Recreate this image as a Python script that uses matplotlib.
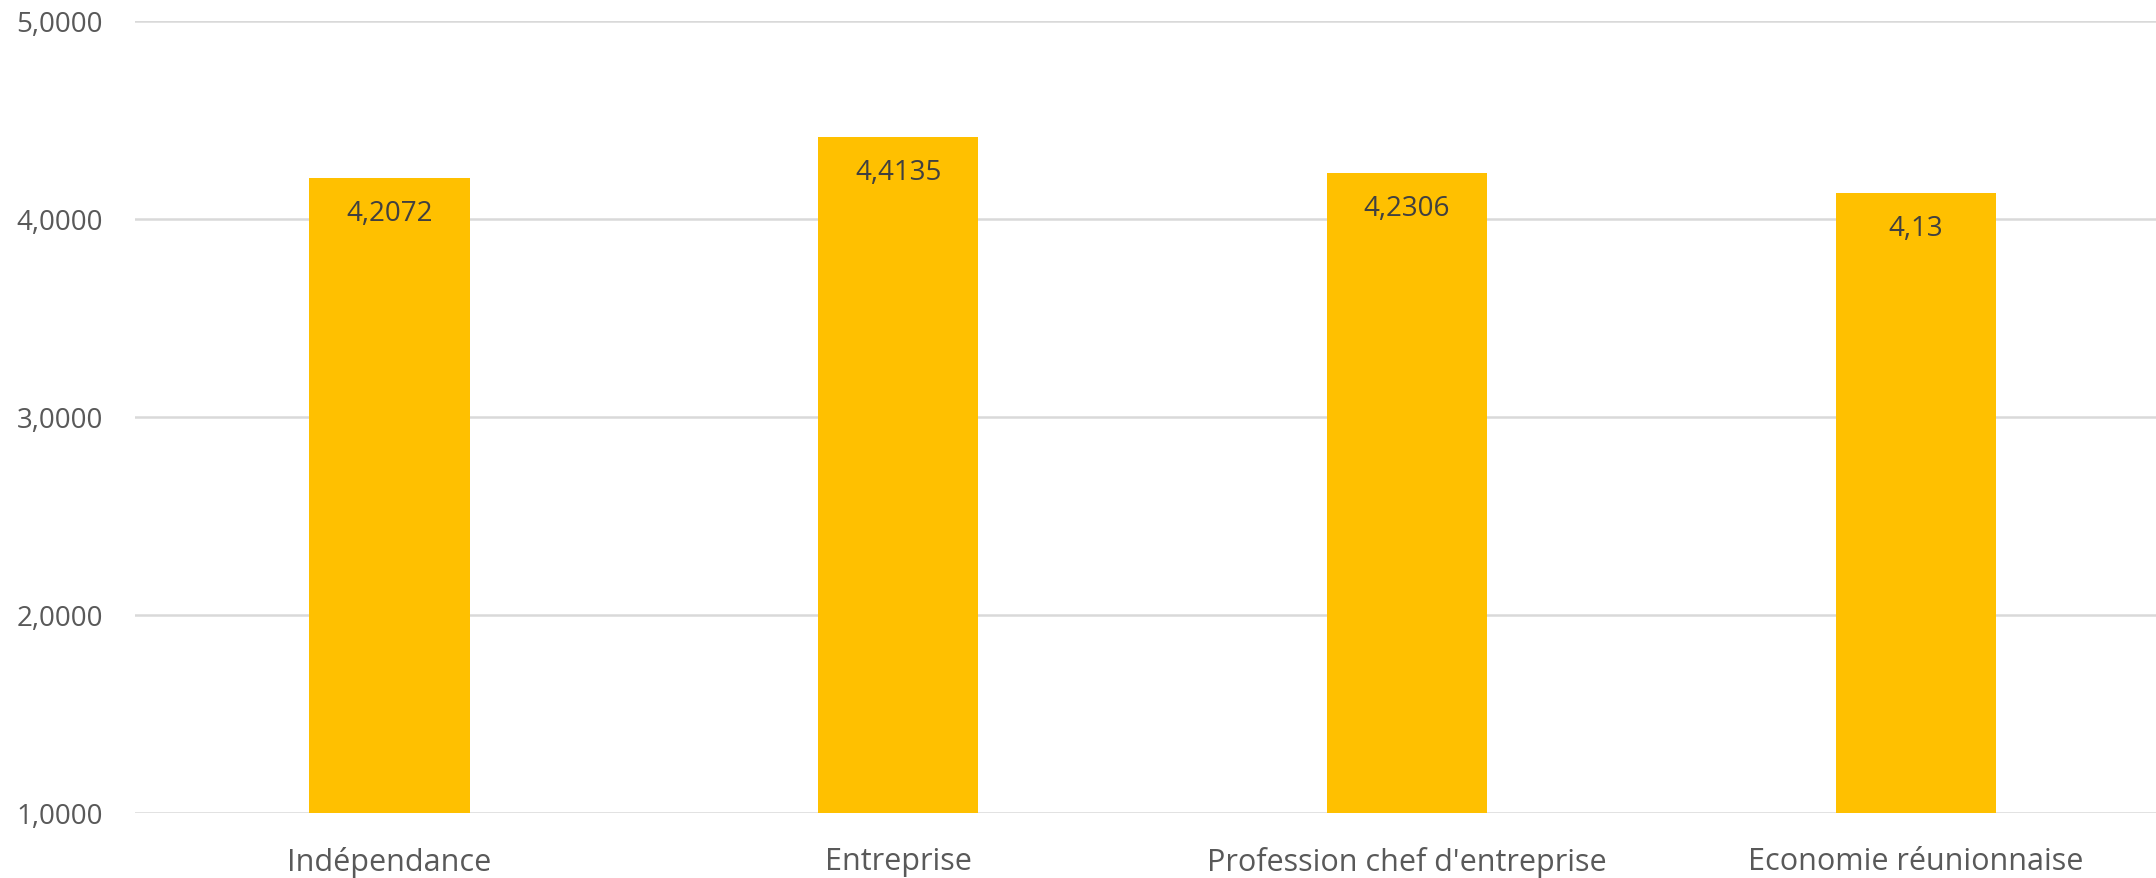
import matplotlib.pyplot as plt
import numpy as np

categories = ['Indépendance', 'Entreprise', "Profession chef d'entreprise", 'Economie réunionnaise']
values = [4.2072, 4.4135, 4.2306, 4.13]
value_labels = ['4,2072', '4,4135', '4,2306', '4,13']
yticks = [1, 2, 3, 4, 5]
ytick_labels = ['1,0000', '2,0000', '3,0000', '4,0000', '5,0000']

plt.rcParams['font.family'] = ['Open Sans', 'DejaVu Sans']

fig = plt.figure(figsize=(21.56, 8.79), dpi=100)
ax = fig.add_axes([0.0626, 0.074, 0.944, 0.901])

x = np.arange(len(categories))
bars = ax.bar(x, [v - 1 for v in values], bottom=1, width=0.315, color='#FFC000', zorder=3)

# value labels just inside the top of each bar
for b, v, lab in zip(bars, values, value_labels):
    ax.annotate(lab, (b.get_x() + b.get_width() / 2, v), xytext=(0, -25),
                textcoords='offset points', ha='center', va='center',
                fontsize=20, color='#404040', zorder=4)

ax.set_xlim(-0.5, 3.5)
ax.set_ylim(1, 5)
ax.set_yticks(yticks)
ax.set_yticklabels(ytick_labels, fontsize=20, color='#595959')
ax.set_xticks(x)
ax.set_xticklabels(categories, fontsize=22, color='#595959')
ax.tick_params(axis='y', length=0, pad=23)
ax.tick_params(axis='x', length=0, pad=24)

ax.grid(axis='y', color='#D9D9D9', linewidth=1.8, zorder=0)
for s in ax.spines.values():
    s.set_visible(False)

fig.savefig('out.png', dpi=100)
